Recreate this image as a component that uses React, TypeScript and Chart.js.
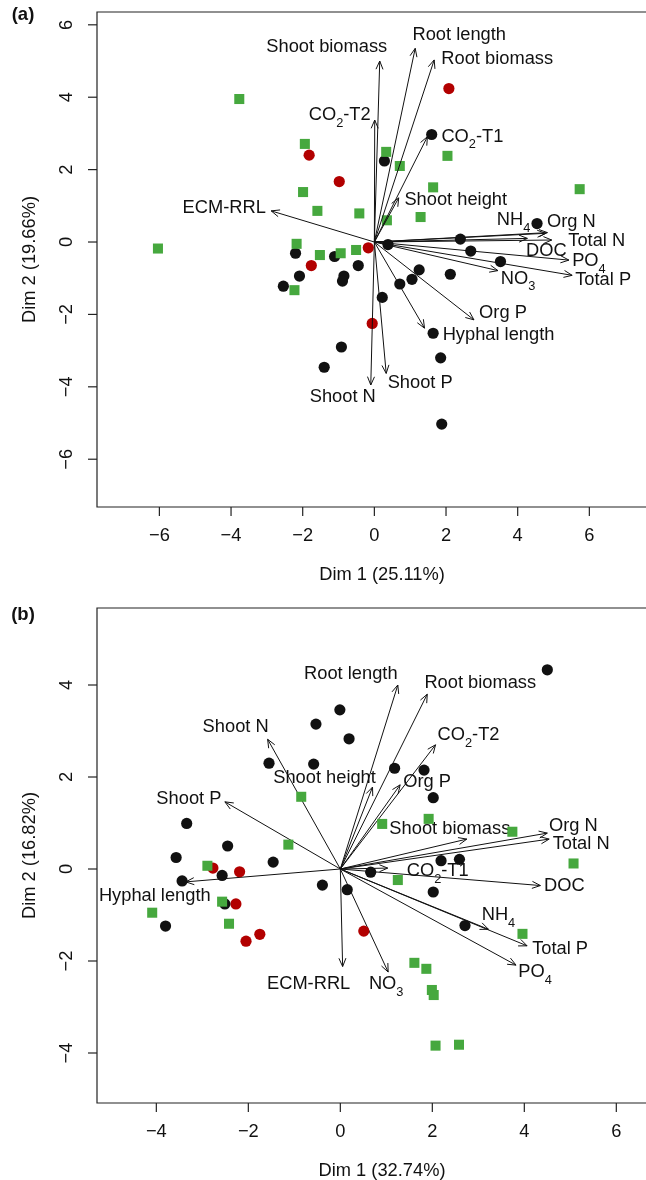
import React, { useEffect, useRef } from 'react';
import { Chart, registerables } from 'chart.js';

Chart.register(...registerables);

type P = [number, number];

// ---------------- Panel (a) data ----------------
const aTag = '(a)';
const aXTitle = 'Dim 1 (25.11%)';
const aYTitle = 'Dim 2 (19.66%)';
const aXTicks = [-6, -4, -2, 0, 2, 4, 6];
const aYTicks = [-6, -4, -2, 0, 2, 4, 6];
const aBlack: P[] = [
  [1.6, 2.97], [0.28, 2.24], [4.54, 0.51], [2.4, 0.08], [0.38, -0.07], [2.69, -0.25],
  [3.52, -0.54], [-2.2, -0.31], [-1.11, -0.4], [-0.45, -0.65], [-2.09, -0.94], [-0.85, -0.94],
  [-0.89, -1.08], [-2.54, -1.22], [1.25, -0.77], [1.05, -1.03], [0.71, -1.16], [2.12, -0.89],
  [0.22, -1.53], [1.64, -2.52], [1.85, -3.2], [-0.92, -2.9], [-1.4, -3.46], [1.88, -5.03],
];
const aRed: P[] = [
  [2.08, 4.24], [-1.82, 2.4], [-0.98, 1.67], [-0.17, -0.16], [-1.76, -0.65], [-0.06, -2.25],
];
const aGreen: P[] = [
  [-3.77, 3.95], [-1.94, 2.71], [-1.99, 1.38], [-1.59, 0.86], [-0.42, 0.79], [-6.04, -0.18],
  [-2.17, -0.05], [-1.52, -0.36], [-0.94, -0.31], [-0.51, -0.22], [-2.23, -1.33], [0.33, 2.49],
  [0.71, 2.1], [2.04, 2.38], [1.64, 1.51], [5.73, 1.46], [0.35, 0.6], [1.29, 0.69],
];
const aVarNames = [
  'Shoot biomass', 'Root length', 'Root biomass', 'CO_2-T2', 'CO_2-T1', 'ECM-RRL', 'Shoot height',
  'NH_4', 'Org N', 'Total N', 'DOC', 'PO_4', 'Total P', 'NO_3', 'Org P', 'Hyphal length', 'Shoot P', 'Shoot N',
];
const aVarDim1 = [0.15, 1.14, 1.67, 0.01, 1.48, -2.88, 0.68, 4.78, 4.83, 4.95, 4.27, 5.43, 5.52, 3.45, 2.78, 1.4, 0.33, -0.1];
const aVarDim2 = [5.0, 5.35, 5.03, 3.37, 2.91, 0.86, 1.22, 0.24, 0.26, 0.055, 0.1, -0.5, -0.92, -0.79, -2.15, -2.38, -3.63, -3.95];

// ---------------- Panel (b) data ----------------
const bTag = '(b)';
const bXTitle = 'Dim 1 (32.74%)';
const bYTitle = 'Dim 2 (16.82%)';
const bXTicks = [-4, -2, 0, 2, 4, 6];
const bYTicks = [-4, -2, 0, 2, 4];
const bBlack: P[] = [
  [-0.01, 3.46], [-0.53, 3.15], [0.19, 2.83], [-1.55, 2.3], [-0.58, 2.28], [-3.34, 0.99],
  [-2.45, 0.5], [-3.57, 0.25], [-1.46, 0.15], [-2.57, -0.14], [-3.44, -0.26], [-0.39, -0.35],
  [0.15, -0.45], [-2.51, -0.76], [-3.8, -1.24], [0.66, -0.07], [4.5, 4.33], [1.18, 2.19],
  [1.82, 2.15], [2.02, 1.55], [2.19, 0.18], [2.59, 0.21], [2.02, -0.5], [2.71, -1.23],
];
const bRed: P[] = [
  [-2.77, 0.02], [-2.19, -0.06], [-2.27, -0.76], [-2.05, -1.57], [-1.75, -1.42], [0.51, -1.35],
];
const bGreen: P[] = [
  [-0.85, 1.57], [-1.13, 0.53], [-2.89, 0.07], [-4.09, -0.95], [-2.57, -0.71], [-2.42, -1.19],
  [0.91, 0.98], [1.92, 1.09], [3.74, 0.81], [5.07, 0.12], [1.25, -0.24], [3.96, -1.41],
  [1.61, -2.04], [1.87, -2.17], [1.99, -2.63], [2.03, -2.74], [2.07, -3.84], [2.58, -3.82],
];
const bVarNames = [
  'Root length', 'Root biomass', 'CO_2-T2', 'Shoot N', 'Shoot height', 'Org P', 'Shoot P', 'Shoot biomass',
  'Org N', 'Total N', 'CO_2-T1', 'DOC', 'NH_4', 'Total P', 'PO_4', 'NO_3', 'ECM-RRL', 'Hyphal length',
];
const bVarDim1 = [1.25, 1.89, 2.07, -1.58, 0.7, 1.3, -2.51, 2.75, 4.5, 4.54, 1.03, 4.35, 3.22, 4.06, 3.82, 1.04, 0.05, -3.36];
const bVarDim2 = [4.0, 3.8, 2.7, 2.82, 1.78, 1.83, 1.46, 0.65, 0.78, 0.65, 0.02, -0.36, -1.31, -1.67, -2.09, -2.24, -2.12, -0.28];

// ---------------- layout (pixel offsets of variable labels from arrow tips) ----------------
const aLabelOffsets: P[] = [
  [-53, -14], [44, -13], [63, -1], [-35, -5], [45, 0], [-47, -3], [57, 2],
  [-32, -13], [24, -11], [45, 1], [19, 13], [20, 1], [31, 5], [20, 8], [29, -7], [74, 7], [34, 10], [-28, 12],
];
const bLabelOffsets: P[] = [
  [-47, -11], [53, -11], [33, -10], [-32, -12], [-48, -9], [27, -3], [-36, -3], [-17, -10],
  [26, -7], [32, 5], [50, 3], [24, 0], [10, -14], [33, 3], [19, 7], [-2, 12], [-34, 17], [-31, 14],
];

const FONT = '"Liberation Sans", Arial, Helvetica, sans-serif';
const FS = 18.3;
const BLACK = '#111111';
const RED = '#b20000';
const GREEN = '#46a83e';

function fmt(v: number) {
  return v < 0 ? '\u2212' + Math.abs(v) : String(v);
}

function drawRich(ctx: CanvasRenderingContext2D, text: string, cx: number, cy: number, size: number) {
  const parts: { t: string; sub: boolean }[] = [];
  let buf = '';
  for (let i = 0; i < text.length; i++) {
    if (text[i] === '_' && i + 1 < text.length) {
      if (buf) parts.push({ t: buf, sub: false });
      buf = '';
      parts.push({ t: text[i + 1], sub: true });
      i++;
    } else buf += text[i];
  }
  if (buf) parts.push({ t: buf, sub: false });
  const mainF = `${size}px ${FONT}`;
  const subF = `${size * 0.7}px ${FONT}`;
  let total = 0;
  const widths = parts.map((p) => {
    ctx.font = p.sub ? subF : mainF;
    const w = ctx.measureText(p.t).width;
    total += w;
    return w;
  });
  let x = cx - total / 2;
  ctx.textAlign = 'left';
  ctx.textBaseline = 'middle';
  parts.forEach((p, i) => {
    ctx.font = p.sub ? subF : mainF;
    ctx.fillText(p.t, x, p.sub ? cy + size * 0.45 : cy);
    x += widths[i];
  });
}

type PanelProps = {
  tag: string;
  xTitle: string;
  yTitle: string;
  xTicks: number[];
  yTicks: number[];
  black: P[];
  red: P[];
  green: P[];
  names: string[];
  dim1: number[];
  dim2: number[];
  offsets: P[];
  xMin: number;
  xMax: number;
  yMin: number;
  yMax: number;
  areaTop: number;
  areaBottom: number;
  tagY: number;
  arrowsOnTop: boolean;
};

const W = 646;
const H = 590;
const LEFT = 97;

function Panel(p: PanelProps) {
  const ref = useRef<HTMLCanvasElement>(null);
  useEffect(() => {
    const canvas = ref.current;
    if (!canvas) return;
    const drawArrows = (chart: any) => {
      const ctx: CanvasRenderingContext2D = chart.ctx;
      const xs = chart.scales.x;
      const ys = chart.scales.y;
      const ox = xs.getPixelForValue(0);
      const oy = ys.getPixelForValue(0);
      ctx.save();
      ctx.strokeStyle = BLACK;
      ctx.fillStyle = BLACK;
      ctx.lineWidth = 1;
      p.names.forEach((name, i) => {
        const tx = xs.getPixelForValue(p.dim1[i]);
        const ty = ys.getPixelForValue(p.dim2[i]);
        const ang = Math.atan2(ty - oy, tx - ox);
        const hl = 9;
        const ha = 0.4;
        ctx.beginPath();
        ctx.moveTo(ox, oy);
        ctx.lineTo(tx, ty);
        ctx.moveTo(tx - hl * Math.cos(ang - ha), ty - hl * Math.sin(ang - ha));
        ctx.lineTo(tx, ty);
        ctx.lineTo(tx - hl * Math.cos(ang + ha), ty - hl * Math.sin(ang + ha));
        ctx.stroke();
        const off = p.offsets[i];
        drawRich(ctx, name, tx + off[0], ty + off[1], FS);
      });
      ctx.restore();
    };
    const axesPlugin = {
      id: 'rAxes',
      afterDraw(chart: any) {
        const ctx: CanvasRenderingContext2D = chart.ctx;
        const a = chart.chartArea;
        const xs = chart.scales.x;
        const ys = chart.scales.y;
        ctx.save();
        ctx.strokeStyle = '#222';
        ctx.fillStyle = BLACK;
        ctx.lineWidth = 1.2;
        // box (right edge falls outside the picture)
        ctx.beginPath();
        ctx.moveTo(W + 2, a.top);
        ctx.lineTo(a.left, a.top);
        ctx.lineTo(a.left, a.bottom);
        ctx.lineTo(W + 2, a.bottom);
        ctx.stroke();
        // x ticks
        ctx.font = `${FS}px ${FONT}`;
        ctx.textAlign = 'center';
        ctx.textBaseline = 'middle';
        p.xTicks.forEach((v) => {
          const x = xs.getPixelForValue(v);
          ctx.beginPath();
          ctx.moveTo(x, a.bottom);
          ctx.lineTo(x, a.bottom + 9);
          ctx.stroke();
          ctx.fillText(fmt(v), x, a.bottom + 29);
        });
        // y ticks (rotated labels, R style)
        p.yTicks.forEach((v) => {
          const y = ys.getPixelForValue(v);
          ctx.beginPath();
          ctx.moveTo(a.left, y);
          ctx.lineTo(a.left - 9, y);
          ctx.stroke();
          ctx.save();
          ctx.translate(a.left - 30, y);
          ctx.rotate(-Math.PI / 2);
          ctx.fillText(fmt(v), 0, 0);
          ctx.restore();
        });
        // titles
        ctx.fillText(p.xTitle, a.left + 285, a.bottom + 68);
        ctx.save();
        ctx.translate(30, (a.top + a.bottom) / 2);
        ctx.rotate(-Math.PI / 2);
        ctx.fillText(p.yTitle, 0, 0);
        ctx.restore();
        ctx.font = `bold 18.5px ${FONT}`;
        ctx.fillText(p.tag, 23, p.tagY);
        ctx.restore();
      },
    };
    const arrowsPlugin = {
      id: 'arrows',
      beforeDatasetsDraw(chart: any) {
        if (!p.arrowsOnTop) drawArrows(chart);
      },
      afterDatasetsDraw(chart: any) {
        if (p.arrowsOnTop) drawArrows(chart);
      },
    };
    const toPts = (arr: P[]) => arr.map(([x, y]) => ({ x, y }));
    const chart = new Chart(canvas, {
      type: 'scatter',
      data: {
        datasets: [
          {
            data: toPts(p.green),
            pointStyle: 'rect',
            pointRadius: 7.1,
            backgroundColor: GREEN,
            borderWidth: 0,
          },
          {
            data: toPts(p.black),
            pointStyle: 'circle',
            pointRadius: 5.6,
            backgroundColor: BLACK,
            borderWidth: 0,
          },
          {
            data: toPts(p.red),
            pointStyle: 'circle',
            pointRadius: 5.6,
            backgroundColor: RED,
            borderWidth: 0,
          },
        ],
      },
      options: {
        animation: false,
        responsive: false,
        maintainAspectRatio: false,
        events: [],
        layout: { padding: { left: LEFT, right: 0, top: p.areaTop, bottom: H - p.areaBottom } },
        scales: {
          x: { type: 'linear', display: false, min: p.xMin, max: p.xMax },
          y: { type: 'linear', display: false, min: p.yMin, max: p.yMax },
        },
        plugins: { legend: { display: false }, tooltip: { enabled: false } },
      },
      plugins: [arrowsPlugin, axesPlugin],
    });
    return () => chart.destroy();
  }, []);
  return <canvas ref={ref} width={W} height={H} style={{ display: 'block', width: W, height: H }} />;
}

export default function App() {
  useEffect(() => {
    document.body.style.margin = '0';
    document.body.style.background = '#fff';
  }, []);
  return (
    <div style={{ width: W, height: 2 * H, background: '#fff' }}>
      <Panel
        tag={aTag}
        xTitle={aXTitle}
        yTitle={aYTitle}
        xTicks={aXTicks}
        yTicks={aYTicks}
        black={aBlack}
        red={aRed}
        green={aGreen}
        names={aVarNames}
        dim1={aVarDim1}
        dim2={aVarDim2}
        offsets={aLabelOffsets}
        xMin={-7.741}
        xMax={7.383}
        yMin={-7.32}
        yMax={6.354}
        areaTop={12}
        areaBottom={507}
        tagY={15}
        arrowsOnTop={true}
      />
      <Panel
        tag={bTag}
        xTitle={bXTitle}
        yTitle={bYTitle}
        xTicks={bXTicks}
        yTicks={bYTicks}
        black={bBlack}
        red={bRed}
        green={bGreen}
        names={bVarNames}
        dim1={bVarDim1}
        dim2={bVarDim2}
        offsets={bLabelOffsets}
        xMin={-5.29}
        xMax={6.491}
        yMin={-5.087}
        yMax={5.674}
        areaTop={18}
        areaBottom={513}
        tagY={25}
        arrowsOnTop={false}
      />
    </div>
  );
}
